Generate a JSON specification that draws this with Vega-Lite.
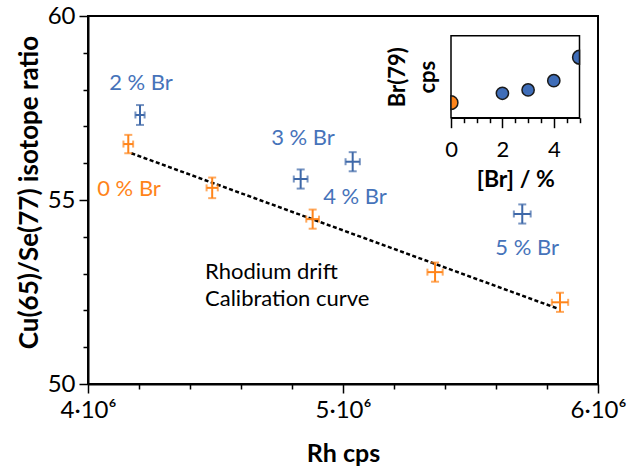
{
  "$schema": "https://vega.github.io/schema/vega-lite/v6.json",
  "width": 510,
  "height": 368,
  "autosize": {"type": "none"},
  "padding": {"left": 88, "top": 16, "right": 32, "bottom": 89},
  "config": {
    "font": "Lato",
    "view": {"stroke": "#000", "strokeWidth": 2},
    "axis": {"domainColor": "#000", "tickColor": "#000", "labelColor": "#000", "titleColor": "#000", "grid": false, "labelFont": "Lato", "titleFont": "Lato"}
  },
  "datasets": {
    "pts": [
      {"series": "cal", "x": 4158000, "xlo": 4139000, "xhi": 4177000, "y": 56.52, "ylo": 56.27, "yhi": 56.77},
      {"series": "cal", "x": 4487000, "xlo": 4465000, "xhi": 4509000, "y": 55.33, "ylo": 55.05, "yhi": 55.61},
      {"series": "cal", "x": 4881000, "xlo": 4856000, "xhi": 4906000, "y": 54.48, "ylo": 54.22, "yhi": 54.74},
      {"series": "cal", "x": 5361000, "xlo": 5331000, "xhi": 5391000, "y": 53.04, "ylo": 52.78, "yhi": 53.30},
      {"series": "cal", "x": 5851000, "xlo": 5819000, "xhi": 5883000, "y": 52.22, "ylo": 51.96, "yhi": 52.48},
      {"series": "br", "x": 4204000, "xlo": 4186000, "xhi": 4222000, "y": 57.31, "ylo": 57.04, "yhi": 57.58},
      {"series": "br", "x": 4834000, "xlo": 4807000, "xhi": 4861000, "y": 55.57, "ylo": 55.31, "yhi": 55.83},
      {"series": "br", "x": 5038000, "xlo": 5010000, "xhi": 5066000, "y": 56.04, "ylo": 55.78, "yhi": 56.30},
      {"series": "br", "x": 5703000, "xlo": 5670000, "xhi": 5736000, "y": 54.62, "ylo": 54.36, "yhi": 54.88}
    ],
    "fit": [
      {"x": 4170000, "y": 56.27},
      {"x": 5838000, "y": 52.06}
    ],
    "labels": [
      {"text": "2 % Br", "x": 4208000, "y": 58.19, "series": "br"},
      {"text": "3 % Br", "x": 4843000, "y": 56.68, "series": "br"},
      {"text": "4 % Br", "x": 5047000, "y": 55.07, "series": "br"},
      {"text": "5 % Br", "x": 5722000, "y": 53.70, "series": "br"},
      {"text": "0 % Br", "x": 4161000, "y": 55.30, "series": "cal"}
    ],
    "notes": [
      {"text": "Rhodium drift", "x": 4459000, "y": 52.853},
      {"text": "Calibration curve", "x": 4459000, "y": 52.12}
    ],
    "inset": [
      {"br": 0, "cps": 0.183, "series": "cal"},
      {"br": 2, "cps": 0.298, "series": "br"},
      {"br": 3, "cps": 0.338, "series": "br"},
      {"br": 4, "cps": 0.451, "series": "br"},
      {"br": 5, "cps": 0.737, "series": "br"}
    ],
    "frame": [
      {"x0": 0, "x1": 5, "y0": 0, "y1": 1}
    ]
  },
  "layer": [
    {
      "data": {"name": "fit"},
      "mark": {"type": "line", "color": "#000", "strokeWidth": 2.5, "strokeDash": [4, 2.5]},
      "encoding": {
        "x": {
          "field": "x", "type": "quantitative",
          "scale": {"domain": [4000000, 6000000], "nice": false, "zero": false},
          "axis": {
            "orient": "bottom",
            "title": "Rh cps",
            "values": [4000000, 5000000, 6000000],
            "labelExpr": "(datum.value / 1000000) + '·10⁶'",
            "tickSize": 9,
            "tickWidth": 1.5,
            "domainWidth": 2,
            "labelFontSize": 24,
            "labelPadding": 5,
            "labelFlush": false,
            "labelOverlap": false,
            "labelBound": false,
            "titleFontSize": 25,
            "titleFontWeight": "bold",
            "titlePadding": 19
          }
        },
        "y": {
          "field": "y", "type": "quantitative",
          "scale": {"domain": [50, 60], "nice": false, "zero": false},
          "axis": {
            "orient": "left",
            "title": "Cu(65)/Se(77) isotope ratio",
            "values": [50, 55, 60],
            "tickSize": 9,
            "tickWidth": 1.5,
            "domainWidth": 2,
            "labelFontSize": 24,
            "labelPadding": 4,
            "labelOverlap": false,
            "labelBound": false,
            "titleFontSize": 26,
            "titleFontWeight": "bold",
            "titlePadding": 5,
            "titleY": 176
          }
        }
      }
    },
    {
      "data": {"name": "pts"},
      "mark": {"type": "rule", "strokeWidth": 2},
      "encoding": {
        "x": {
          "field": "x", "type": "quantitative",
          "scale": {"domain": [4000000, 6000000], "nice": false, "zero": false},
          "axis": {"orient": "bottom", "title": null, "values": [4200000, 4400000, 4600000, 4800000, 5200000, 5400000, 5600000, 5800000], "labels": false, "domain": false, "tickSize": 5, "tickWidth": 1.5}
        },
        "y": {
          "field": "ylo", "type": "quantitative",
          "scale": {"domain": [50, 60], "nice": false, "zero": false},
          "axis": {"orient": "left", "title": null, "values": [51, 52, 53, 54, 56, 57, 58, 59], "labels": false, "domain": false, "tickSize": 5, "tickWidth": 1.5}
        },
        "y2": {"field": "yhi"},
        "color": {"field": "series", "type": "nominal", "scale": {"domain": ["cal", "br"], "range": ["#FF8419", "#3E68A8"]}, "legend": null}
      }
    },
    {
      "data": {"name": "pts"},
      "mark": {"type": "rule", "strokeWidth": 2},
      "encoding": {
        "x": {"field": "xlo", "type": "quantitative", "scale": {"domain": [4000000, 6000000], "nice": false, "zero": false}, "axis": null},
        "x2": {"field": "xhi"},
        "y": {"field": "y", "type": "quantitative", "scale": {"domain": [50, 60], "nice": false, "zero": false}, "axis": null},
        "color": {"field": "series", "type": "nominal", "legend": null}
      }
    },
    {
      "data": {"name": "pts"},
      "mark": {"type": "tick", "orient": "horizontal", "size": 8, "thickness": 2},
      "encoding": {
        "x": {"field": "x", "type": "quantitative", "scale": {"domain": [4000000, 6000000], "nice": false, "zero": false}, "axis": null},
        "y": {"field": "yhi", "type": "quantitative", "scale": {"domain": [50, 60], "nice": false, "zero": false}, "axis": null},
        "color": {"field": "series", "type": "nominal", "legend": null}
      }
    },
    {
      "data": {"name": "pts"},
      "mark": {"type": "tick", "orient": "horizontal", "size": 8, "thickness": 2},
      "encoding": {
        "x": {"field": "x", "type": "quantitative", "scale": {"domain": [4000000, 6000000], "nice": false, "zero": false}, "axis": null},
        "y": {"field": "ylo", "type": "quantitative", "scale": {"domain": [50, 60], "nice": false, "zero": false}, "axis": null},
        "color": {"field": "series", "type": "nominal", "legend": null}
      }
    },
    {
      "data": {"name": "pts"},
      "mark": {"type": "tick", "orient": "vertical", "size": 7, "thickness": 2},
      "encoding": {
        "x": {"field": "xlo", "type": "quantitative", "scale": {"domain": [4000000, 6000000], "nice": false, "zero": false}, "axis": null},
        "y": {"field": "y", "type": "quantitative", "scale": {"domain": [50, 60], "nice": false, "zero": false}, "axis": null},
        "color": {"field": "series", "type": "nominal", "legend": null}
      }
    },
    {
      "data": {"name": "pts"},
      "mark": {"type": "tick", "orient": "vertical", "size": 7, "thickness": 2},
      "encoding": {
        "x": {"field": "xhi", "type": "quantitative", "scale": {"domain": [4000000, 6000000], "nice": false, "zero": false}, "axis": null},
        "y": {"field": "y", "type": "quantitative", "scale": {"domain": [50, 60], "nice": false, "zero": false}, "axis": null},
        "color": {"field": "series", "type": "nominal", "legend": null}
      }
    },
    {
      "data": {"name": "labels"},
      "mark": {"type": "text", "font": "Lato", "fontSize": 22, "align": "center", "baseline": "middle"},
      "encoding": {
        "x": {"field": "x", "type": "quantitative", "scale": {"domain": [4000000, 6000000], "nice": false, "zero": false}, "axis": null},
        "y": {"field": "y", "type": "quantitative", "scale": {"domain": [50, 60], "nice": false, "zero": false}, "axis": null},
        "text": {"field": "text"},
        "color": {"condition": {"test": "datum.series === 'cal'", "value": "#FF8419"}, "value": "#4673BA"}
      }
    },
    {
      "data": {"name": "notes"},
      "mark": {"type": "text", "font": "Lato", "fontSize": 22, "align": "left", "baseline": "alphabetic", "color": "#000"},
      "encoding": {
        "x": {"field": "x", "type": "quantitative", "scale": {"domain": [4000000, 6000000], "nice": false, "zero": false}, "axis": null},
        "y": {"field": "y", "type": "quantitative", "scale": {"domain": [50, 60], "nice": false, "zero": false}, "axis": null},
        "text": {"field": "text"}
      }
    },
    {
      "data": {"name": "frame"},
      "mark": {"type": "rect", "fillOpacity": 0, "stroke": "#000", "strokeWidth": 1.5},
      "encoding": {
        "x": {
          "field": "x0", "type": "quantitative",
          "scale": {"domain": [0, 5], "range": [363, 491.5], "nice": false, "zero": false},
          "axis": {
            "orient": "bottom",
            "offset": -266.3,
            "title": "[Br] / %",
            "values": [0, 2, 4],
            "tickSize": 10,
            "tickWidth": 1.5,
            "domainWidth": 1.5,
            "labelFontSize": 22,
            "labelPadding": 12,
            "labelFlush": false,
            "labelOverlap": false,
            "labelBound": false,
            "titleFontSize": 23,
            "titleFontWeight": "bold",
            "titlePadding": 8
          }
        },
        "x2": {"field": "x1"},
        "y": {
          "field": "y0", "type": "quantitative",
          "scale": {"domain": [0, 1], "range": [101.7, 19.7], "nice": false, "zero": false},
          "axis": {
            "orient": "left",
            "offset": -363,
            "title": ["Br(79)", "cps"],
            "domain": false,
            "ticks": false,
            "labels": false,
            "titleFontSize": 22,
            "titleFontWeight": "bold",
            "titleLineHeight": 30,
            "titlePadding": 12
          }
        },
        "y2": {"field": "y1"}
      }
    },
    {
      "data": {"name": "inset"},
      "transform": [{"filter": "datum.br > 0 && datum.br < 5"}],
      "mark": {"type": "point", "shape": "circle", "filled": true, "size": 150, "stroke": "#1a1a1a", "strokeWidth": 1.5, "opacity": 1},
      "encoding": {
        "x": {
          "field": "br", "type": "quantitative",
          "scale": {"domain": [0, 5], "range": [363, 491.5], "nice": false, "zero": false},
          "axis": {"orient": "bottom", "offset": -266.3, "title": null, "values": [0.5, 1, 1.5, 2.5, 3, 3.5, 4.5, 5], "labels": false, "domain": false, "tickSize": 5, "tickWidth": 1.5}
        },
        "y": {"field": "cps", "type": "quantitative", "scale": {"domain": [0, 1], "range": [101.7, 19.7], "nice": false, "zero": false}, "axis": null},
        "fill": {"field": "series", "type": "nominal", "scale": {"domain": ["cal", "br"], "range": ["#FF8419", "#3F6DB8"]}, "legend": null}
      }
    },
    {
      "data": {"name": "inset"},
      "transform": [{"filter": "datum.br === 0"}],
      "mark": {"type": "point", "shape": "M0,-1.128A1.128,1.128 0 0 1 0,1.128Z", "filled": true, "size": 150, "stroke": "#1a1a1a", "strokeWidth": 1.5, "opacity": 1},
      "encoding": {
        "x": {"field": "br", "type": "quantitative", "scale": {"domain": [0, 5], "range": [363, 491.5], "nice": false, "zero": false}, "axis": null},
        "y": {"field": "cps", "type": "quantitative", "scale": {"domain": [0, 1], "range": [101.7, 19.7], "nice": false, "zero": false}, "axis": null},
        "fill": {"field": "series", "type": "nominal", "legend": null}
      }
    },
    {
      "data": {"name": "inset"},
      "transform": [{"filter": "datum.br === 5"}],
      "mark": {"type": "point", "shape": "M0,-1.128A1.128,1.128 0 0 0 0,1.128Z", "filled": true, "size": 150, "stroke": "#1a1a1a", "strokeWidth": 1.5, "opacity": 1},
      "encoding": {
        "x": {"field": "br", "type": "quantitative", "scale": {"domain": [0, 5], "range": [363, 491.5], "nice": false, "zero": false}, "axis": null},
        "y": {"field": "cps", "type": "quantitative", "scale": {"domain": [0, 1], "range": [101.7, 19.7], "nice": false, "zero": false}, "axis": null},
        "fill": {"field": "series", "type": "nominal", "legend": null}
      }
    }
  ],
  "resolve": {
    "scale": {"x": "independent", "y": "independent"},
    "axis": {"x": "independent", "y": "independent"}
  }
}
